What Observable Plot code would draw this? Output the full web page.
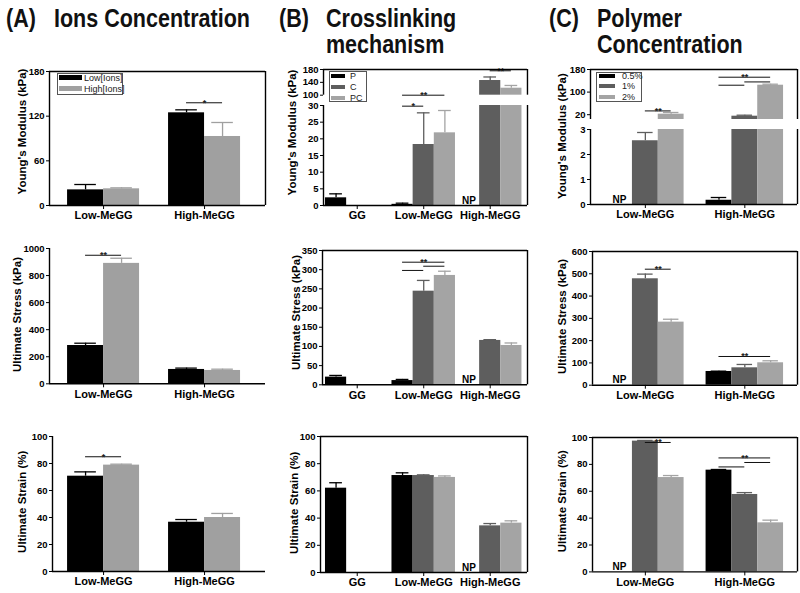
<!DOCTYPE html>
<html>
<head>
<meta charset="utf-8">
<script src="https://cdn.jsdelivr.net/npm/d3@7"></script>
<script src="https://cdn.jsdelivr.net/npm/@observablehq/plot@0.6"></script>
<style>
  html, body { margin: 0; padding: 0; background: #fff; }
  #fig { position: relative; width: 800px; height: 593px; overflow: hidden; background: #fff;
         font-family: "Liberation Sans", Arial, sans-serif; color: #000; }
  #fig svg { position: absolute; }
  .title { position: absolute; top: 5px; font-weight: bold; font-size: 25px; line-height: 26px;
           transform: scaleX(0.86); transform-origin: 0 0; white-space: pre; color: #111; }
  .lbox { position: absolute; border: 1px solid #555; background: #fff; box-sizing: border-box; }
  .sw { position: absolute; }
  .lt { position: absolute; font-size: 9px; line-height: 10px; color: #222; white-space: nowrap; }
  #fig svg [aria-label^="y-axis"] { font-size: 9.5px; font-weight: bold; }
  #fig svg [aria-label^="fx-axis"] { font-size: 11px; font-weight: bold; }
</style>
</head>
<body>
<div id="fig"></div>
<script>
// ---------------- DATA ----------------
// (A) Ions concentration
const groupsA = ["Low-MeGG", "High-MeGG"];
const seriesA = ["Low[Ions]", "High[Ions]"];
const colorsA = ["#000000", "#a0a0a0"];
const youngA = [[21, 22.4], [124.5, 92.7]];
const youngErrA = [[7.2, 1.3], [4, 18.8]];
const stressA = [[283, 890], [106, 98.5]];
const stressErrA = [[17, 38], [10, 9.5]];
const strainA = [[70.6, 78.8], [36.5, 40]];
const strainErrA = [[3.2, 0.7], [2, 3]];
const youngSigA = [{group: "High-MeGG", from: "Low[Ions]", to: "High[Ions]", y: 138, star: "*"}];
const stressSigA = [{group: "Low-MeGG", from: "Low[Ions]", to: "High[Ions]", y: 950, star: "**"}];
const strainSigA = [{group: "Low-MeGG", from: "Low[Ions]", to: "High[Ions]", y: 85, star: "*"}];

// (B) Crosslinking mechanism
const groupsB = ["GG", "Low-MeGG", "High-MeGG"];
const seriesB = ["P", "C", "PC"];
const colorsB = ["#000000", "#5e5e5e", "#a4a4a4"];
const youngB = [[2.3, null, null], [0.35, 18.3, 21.8], [null, 145.7, 121.8]];
const youngErrB = [[1.2, null, null], [0.35, 9.5, 6.7], [null, 11, 8.5]];
const stressB = [[20, null, null], [11, 244, 285], [null, 115.6, 102.5]];
const stressErrB = [[4.4, null, null], [3, 28, 11], [null, 2, 6.5]];
const strainB = [[62, null, null], [71.3, 71.3, 69.9], [null, 34.3, 36.3]];
const strainErrB = [[4, null, null], [2, 0.5, 1.1], [null, 1.7, 1.7]];
const youngSigB = [
  {group: "Low-MeGG", from: "P", to: "C", y: 29.8, star: "*"},
  {group: "Low-MeGG", from: "P", to: "PC", y: 100, star: "**"},
  {group: "High-MeGG", from: "C", to: "PC", y: 176, star: "**"}
];
const stressSigB = [
  {group: "Low-MeGG", from: "P", to: "PC", y: 319.5, star: "**"},
  {group: "Low-MeGG", from: "P", to: "C", y: 298, star: ""},
  {group: "Low-MeGG", from: "C", to: "PC", y: 309, star: ""}
];
const notPerformedB = [{group: "High-MeGG", series: "P", label: "NP"}];

// (C) Polymer concentration
const groupsC = ["Low-MeGG", "High-MeGG"];
const seriesC = ["0.5%", "1%", "2%"];
const colorsC = ["#000000", "#5e5e5e", "#a4a4a4"];
const youngC = [[null, 2.55, 21.8], [0.17, 14.7, 124.4]];
const youngErrC = [[null, 0.33, 6], [0.11, 3.5, 3.6]];
const stressC = [[null, 477.5, 283], [61.5, 78, 100.5]];
const stressErrC = [[null, 21, 13], [1.5, 15, 9]];
const strainC = [[null, 97.3, 70.2], [75.7, 57.6, 36.5]];
const strainErrC = [[null, 0.5, 1.5], [0.5, 1.4, 2]];
const youngSigC = [
  {group: "Low-MeGG", from: "1%", to: "2%", y: 33.4, star: "**"},
  {group: "High-MeGG", from: "0.5%", to: "2%", y: 152.7, star: "**"},
  {group: "High-MeGG", from: "0.5%", to: "1%", y: 124.4, star: ""},
  {group: "High-MeGG", from: "1%", to: "2%", y: 136, star: ""}
];
const stressSigC = [
  {group: "Low-MeGG", from: "1%", to: "2%", y: 520.6, star: "**"},
  {group: "High-MeGG", from: "0.5%", to: "2%", y: 128.8, star: "**"}
];
const strainSigC = [
  {group: "Low-MeGG", from: "1%", to: "2%", y: 96.3, star: "**"},
  {group: "High-MeGG", from: "0.5%", to: "2%", y: 84.8, star: "**"},
  {group: "High-MeGG", from: "0.5%", to: "1%", y: 78.1, star: ""},
  {group: "High-MeGG", from: "1%", to: "2%", y: 81.4, star: ""}
];
const notPerformedC = [{group: "Low-MeGG", series: "0.5%", label: "NP"}];

// tick values
const ticksYoungA = [0, 60, 120, 180];
const ticksStressA = [0, 200, 400, 600, 800, 1000];
const ticksStrain = [0, 20, 40, 60, 80, 100];
const ticksYoungBUpper = [100, 140, 180];
const ticksYoungBLower = [0, 5, 10, 15, 20, 25, 30];
const ticksStressB = [0, 50, 100, 150, 200, 250, 300, 350];
const ticksYoungCUpper = [20, 100, 180];
const ticksYoungCLower = [0, 1, 2, 3];
const ticksStressC = [0, 100, 200, 300, 400, 500, 600];

// axis titles
const labelYoung = "Young's Modulus (kPa)";
const labelStress = "Ultimate Stress (kPa)";
const labelStrain = "Ultimate Strain (%)";

// ---------------- LAYOUT ----------------
const fig = document.getElementById("fig");
const colA = {left: 0, width: 268, x0: 49, x1: 265, fx: {paddingInner: 0.287, paddingOuter: 0.213, align: 0.42}};
const colB = {left: 268, width: 268, x0: 322, x1: 527, fx: {paddingInner: 0.045, paddingOuter: 0.064, align: 0.35}};
const colC = {left: 535, width: 265, x0: 591, x1: 797, fx: {paddingInner: 0.221, paddingOuter: 0.146, align: 0.52}};
const FULL = {top: true, right: true, bottom: true};
const FONT = "Liberation Sans, Arial, sans-serif";

function rowsOf(groups, series, means, errs) {
  const out = [];
  groups.forEach((g, i) => series.forEach((s, j) => {
    const v = means[i][j];
    if (v != null) out.push({group: g, series: s, value: v, err: errs[i][j]});
  }));
  return out;
}

function place(svg, left, top) {
  svg.style.left = left + "px";
  svg.style.top = top + "px";
  fig.appendChild(svg);
}

function drawPanel({col, ax0, groups, series, colors, rows, sig = [], np = [], label, segs, capFrac = 0.3}) {
  const n = series.length;
  const xi = (s) => series.indexOf(s) + 0.5;
  segs.forEach((seg) => {
    const [lo, hi] = seg.domain;
    const mt = 14, mb = 24;
    const top = seg.y0 - mt;
    const H = seg.y1 + mb - top;
    const common = {
      width: col.width, height: H, marginTop: mt, marginBottom: mb,
      marginRight: col.left + col.width - col.x1,
      style: {background: "transparent", overflow: "visible", fontFamily: FONT}
    };
    const inSeg = rows.filter((d) => d.value >= lo && d.value <= hi);
    const sigSeg = sig.filter((d) => d.y >= lo && d.y <= hi);
    const bars = Plot.plot({
      ...common,
      marginLeft: col.x0 - col.left,
      fx: {domain: groups, ...col.fx, round: false, axis: seg.xAxis ? "bottom" : null, tickSize: 4, tickPadding: 2, label: null},
      x: {domain: [0, n], axis: null},
      y: {domain: seg.domain, axis: null, clamp: true},
      color: {domain: series, range: colors},
      marks: [
        Plot.rect(rows, {fx: "group", x1: (d) => series.indexOf(d.series), x2: (d) => series.indexOf(d.series) + 1,
                         y1: 0, y2: "value", fill: "series"}),
        Plot.ruleX(inSeg, {fx: "group", x: (d) => xi(d.series), y1: "value", y2: (d) => d.value + d.err,
                           stroke: "series", strokeWidth: 1.3}),
        Plot.ruleY(inSeg, {fx: "group", x1: (d) => xi(d.series) - capFrac, x2: (d) => xi(d.series) + capFrac,
                           y: (d) => d.value + d.err, stroke: "series", strokeWidth: 1.3}),
        Plot.ruleY(sigSeg, {fx: "group", x1: (d) => xi(d.from), x2: (d) => xi(d.to), y: "y", stroke: "#111", strokeWidth: 1}),
        Plot.text(sigSeg.filter((d) => d.star), {fx: "group", x: (d) => (xi(d.from) + xi(d.to)) / 2, y: "y", text: "star",
                           lineAnchor: "bottom", dy: 3, fontSize: 9, fontWeight: "bold", fill: "#222"}),
        seg.xAxis ? Plot.text(np, {fx: "group", x: (d) => xi(d.series), y: lo, text: "label", lineAnchor: "bottom",
                           dy: -2, fontSize: 10, fontWeight: "bold"}) : null
      ]
    });
    place(bars, col.left, top);

    const axes = Plot.plot({
      ...common,
      marginLeft: ax0 - col.left,
      x: {domain: [0, 1], axis: null},
      y: {domain: seg.domain, ticks: seg.ticks, tickFormat: (d) => String(d), tickSize: 3, tickPadding: 2, label: null},
      marks: [
        Plot.ruleX([0], {strokeWidth: 1.4}),
        seg.box.bottom ? Plot.ruleY([lo], {strokeWidth: 1.4}) : null,
        seg.box.top ? Plot.ruleY([hi], {strokeWidth: 1.4}) : null,
        seg.box.right ? Plot.ruleX([1], {strokeWidth: 1.4}) : null,
        seg.label ? Plot.text([label], {frameAnchor: "left", textAnchor: "middle", lineAnchor: "middle", rotate: -90,
                           text: (d) => d.text,
                           dx: label.x - ax0, dy: label.y - (seg.y0 + seg.y1) / 2,
                           fontSize: 11.5, fontWeight: "bold"}) : null
      ]
    });
    place(axes, col.left, top);
  });
}

// ----- column A -----
drawPanel({col: colA, ax0: 49, groups: groupsA, series: seriesA, colors: colorsA,
  rows: rowsOf(groupsA, seriesA, youngA, youngErrA), sig: youngSigA,
  label: {text: labelYoung, x: 21.5, y: 131},
  segs: [{y0: 71, y1: 205, domain: [0, 180], ticks: ticksYoungA, box: FULL, xAxis: true, label: true}]});
drawPanel({col: colA, ax0: 49, groups: groupsA, series: seriesA, colors: colorsA,
  rows: rowsOf(groupsA, seriesA, stressA, stressErrA), sig: stressSigA,
  label: {text: labelStress, x: 16.5, y: 314},
  segs: [{y0: 248, y1: 383.3, domain: [0, 1000], ticks: ticksStressA, box: {bottom: true}, xAxis: true, label: true}]});
drawPanel({col: colA, ax0: 52, groups: groupsA, series: seriesA, colors: colorsA,
  rows: rowsOf(groupsA, seriesA, strainA, strainErrA), sig: strainSigA,
  label: {text: labelStrain, x: 21.7, y: 501},
  segs: [{y0: 435.7, y1: 570.7, domain: [0, 100], ticks: ticksStrain, box: {bottom: true}, xAxis: true, label: true}]});

// ----- column B -----
drawPanel({col: colB, ax0: 323, groups: groupsB, series: seriesB, colors: colorsB,
  rows: rowsOf(groupsB, seriesB, youngB, youngErrB), sig: youngSigB, np: notPerformedB,
  label: {text: labelYoung, x: 292, y: 132},
  segs: [
    {y0: 69, y1: 94.7, domain: [100, 180], ticks: ticksYoungBUpper, box: {top: true, right: true}, xAxis: false},
    {y0: 105, y1: 205, domain: [0, 30], ticks: ticksYoungBLower, box: {right: true, bottom: true}, xAxis: true, label: true}
  ]});
drawPanel({col: colB, ax0: 322, groups: groupsB, series: seriesB, colors: colorsB,
  rows: rowsOf(groupsB, seriesB, stressB, stressErrB), sig: stressSigB, np: notPerformedB,
  label: {text: labelStress, x: 296, y: 312},
  segs: [{y0: 250, y1: 384.3, domain: [0, 350], ticks: ticksStressB, box: FULL, xAxis: true, label: true}]});
drawPanel({col: colB, ax0: 320, groups: groupsB, series: seriesB, colors: colorsB,
  rows: rowsOf(groupsB, seriesB, strainB, strainErrB), np: notPerformedB,
  label: {text: labelStrain, x: 294, y: 502},
  segs: [{y0: 435.7, y1: 571.7, domain: [0, 100], ticks: ticksStrain, box: FULL, xAxis: true, label: true}]});

// ----- column C -----
drawPanel({col: colC, ax0: 590, groups: groupsC, series: seriesC, colors: colorsC,
  rows: rowsOf(groupsC, seriesC, youngC, youngErrC), sig: youngSigC, np: notPerformedC,
  label: {text: labelYoung, x: 562, y: 136},
  segs: [
    {y0: 69.3, y1: 119.3, domain: [3, 180], ticks: ticksYoungCUpper, box: {top: true, right: true}, xAxis: false},
    {y0: 129.3, y1: 204.3, domain: [0, 3], ticks: ticksYoungCLower, box: {right: true, bottom: true}, xAxis: true, label: true}
  ]});
drawPanel({col: colC, ax0: 592, groups: groupsC, series: seriesC, colors: colorsC,
  rows: rowsOf(groupsC, seriesC, stressC, stressErrC), sig: stressSigC, np: notPerformedC,
  label: {text: labelStress, x: 562, y: 316},
  segs: [{y0: 251, y1: 384.7, domain: [0, 600], ticks: ticksStressC, box: FULL, xAxis: true, label: true}]});
drawPanel({col: colC, ax0: 592, groups: groupsC, series: seriesC, colors: colorsC,
  rows: rowsOf(groupsC, seriesC, strainC, strainErrC), sig: strainSigC, np: notPerformedC,
  label: {text: labelStrain, x: 562, y: 501},
  segs: [{y0: 437.3, y1: 571.7, domain: [0, 100], ticks: ticksStrain, box: FULL, xAxis: true, label: true}]});

// ---------------- LEGENDS ----------------
function legend(box, spec, series, colors) {
  const b = document.createElement("div");
  b.className = "lbox";
  Object.assign(b.style, {left: box.left + "px", top: box.top + "px", width: box.w + "px", height: box.h + "px"});
  fig.appendChild(b);
  series.forEach((s, i) => {
    const c = spec.centers[i];
    const sw = document.createElement("div");
    sw.className = "sw";
    Object.assign(sw.style, {left: spec.swLeft + "px", top: (c - spec.swH / 2) + "px",
      width: spec.swW + "px", height: spec.swH + "px", background: colors[i]});
    fig.appendChild(sw);
    const t = document.createElement("div");
    t.className = "lt";
    t.textContent = s;
    Object.assign(t.style, {left: spec.textLeft + "px", top: (c - 5) + "px"});
    fig.appendChild(t);
  });
}
legend({left: 57, top: 73, w: 66, h: 22}, {swLeft: 59, swW: 23, swH: 5, textLeft: 84, centers: [77.5, 88.5]}, seriesA, colorsA);
legend({left: 329, top: 71, w: 38, h: 31}, {swLeft: 331, swW: 14, swH: 4, textLeft: 350, centers: [75.7, 86.7, 97.5]}, seriesB, colorsB);
legend({left: 596, top: 72, w: 46, h: 30}, {swLeft: 599, swW: 16, swH: 4, textLeft: 622, centers: [76, 85.7, 96.5]}, seriesC, colorsC);

// ---------------- TITLES ----------------
const titles = [
  {text: "(A)", left: 6}, {text: "Ions Concentration", left: 54},
  {text: "(B)", left: 279}, {text: "Crosslinking\nmechanism", left: 326},
  {text: "(C)", left: 549}, {text: "Polymer\nConcentration", left: 597}
];
titles.forEach((t) => {
  const d = document.createElement("div");
  d.className = "title";
  d.textContent = t.text;
  d.style.left = t.left + "px";
  fig.appendChild(d);
});
</script>
</body>
</html>
